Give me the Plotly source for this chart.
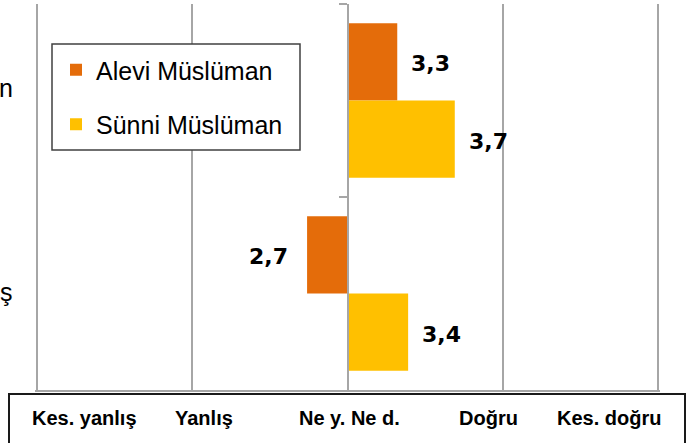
import plotly.graph_objects as go

categories = ["n", "ş"]
series_names = ["Alevi Müslüman", "Sünni Müslüman"]
alevi = [3.32, 2.74]
sunni = [3.69, 3.39]
scale_labels = ["Kes. yanlış", "Yanlış", "Ne y. Ne d.", "Doğru", "Kes. doğru"]
scale_values = [1, 2, 3, 4, 5]
midpoint = 3

colors = ["#E46C0A", "#FFC000"]
W, H = 690, 443
L, R, T, B = 35, 30, 4, 53
pw, ph = W - L - R, H - T - B


def px_x(px):
    return (px - L) / pw


def px_y(py):
    return (H - B - py) / ph


fig = go.Figure()
for name, vals, col in zip(series_names, [alevi, sunni], colors):
    fig.add_trace(go.Bar(
        y=categories, x=[v - midpoint for v in vals], base=midpoint,
        orientation="h", name=name, legendgroup=name,
        marker=dict(color=col, line=dict(width=0)),
        hoverinfo="skip",
    ))

annotations = []
# value labels
for i, vals in enumerate([alevi, sunni]):
    for j, v in enumerate(vals):
        pos = v >= midpoint
        annotations.append(dict(
            x=v, y=j + (i - 0.5) * 0.4, xref="x", yref="y",
            text=f"{v:.1f}".replace(".", ","), showarrow=False,
            xanchor="left" if pos else "right", yanchor="middle",
            xshift=12 if pos else -17, yshift=-2,
            font=dict(family="DejaVu Sans", size=22, color="black", weight="bold"),
        ))
# clipped category labels at far left
cat_yshift = [13, 2]
for j, c in enumerate(categories):
    annotations.append(dict(
        x=px_x(15), y=c, xref="paper", yref="y", text=c, showarrow=False,
        xanchor="right", yanchor="middle", yshift=cat_yshift[j],
        font=dict(family="Liberation Sans", size=25, color="black"),
    ))
# scale labels in the bottom box
label_px = [84, 204, 349, 488, 609]
for lab, px in zip(scale_labels, label_px):
    annotations.append(dict(
        x=px_x(px), y=px_y(418), xref="paper", yref="paper",
        text=lab, showarrow=False, xanchor="center", yanchor="middle",
        font=dict(family="Liberation Sans", size=20, color="black", weight="bold"),
    ))

shapes = [
    # bottom label box
    dict(type="rect", xref="paper", yref="paper",
         x0=px_x(9), x1=px_x(685), y0=px_y(460), y1=px_y(394),
         line=dict(color="#1a1a1a", width=2), fillcolor="rgba(0,0,0,0)", layer="above"),
    # legend frame
    dict(type="rect", xref="paper", yref="paper",
         x0=px_x(52), x1=px_x(300), y0=px_y(150), y1=px_y(44),
         line=dict(color="#404040", width=1.5), fillcolor="white", layer="above"),
]

fig.update_layout(
    width=W, height=H, margin=dict(l=L, r=R, t=T, b=B),
    paper_bgcolor="white", plot_bgcolor="white",
    barmode="group", bargap=0.2, bargroupgap=0,
    separators=",.",
    showlegend=True,
    legend=dict(
        x=px_x(56), y=px_y(47), xanchor="left", yanchor="top",
        bgcolor="rgba(0,0,0,0)", borderwidth=0,
        font=dict(family="Liberation Sans", size=25, color="black"),
        traceorder="grouped", tracegroupgap=19,
    ),
    xaxis=dict(
        range=[0.99, 5.01], tickvals=scale_values, showticklabels=False,
        showgrid=True, gridcolor="#A6A6A6", gridwidth=1.5,
        showline=True, linecolor="#A6A6A6", linewidth=1.5,
        zeroline=False, ticks="",
    ),
    yaxis=dict(
        type="category", autorange="reversed", anchor="free", position=0.5,
        showticklabels=False, showgrid=False, zeroline=False,
        showline=True, linecolor="#A6A6A6", linewidth=1.5,
        ticks="outside", tickson="boundaries", ticklen=8,
        tickcolor="#A6A6A6", tickwidth=1.5,
    ),
    annotations=annotations, shapes=shapes,
)

fig.write_html("out.html", config={"displayModeBar": False},
               post_script="document.body.style.margin='0px';")
